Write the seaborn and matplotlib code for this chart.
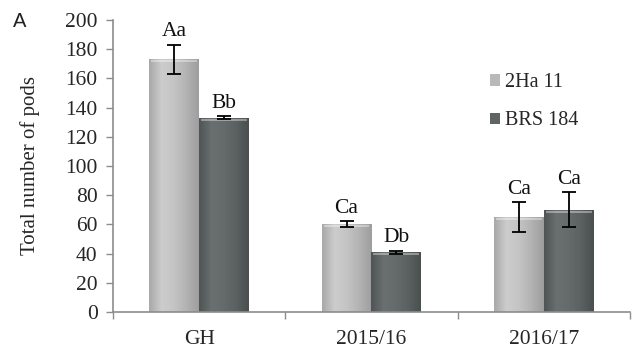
import numpy as np
import pandas as pd
import matplotlib
matplotlib.use("Agg")
import matplotlib.pyplot as plt
import seaborn as sns
from matplotlib.colors import LinearSegmentedColormap

# Total number of pods per environment and genotype
environments = ["GH", "2015/16", "2016/17"]
genotypes = ["2Ha 11", "BRS 184"]
pods_2ha11 = [173, 60, 65]
pods_brs184 = [133, 41, 70]
err_2ha11 = [10, 2, 10]
err_brs184 = [1, 1, 12]
letters_2ha11 = ["Aa", "Ca", "Ca"]
letters_brs184 = ["Bb", "Db", "Ca"]

df = pd.DataFrame({
    "env": environments * 2,
    "genotype": [genotypes[0]] * 3 + [genotypes[1]] * 3,
    "pods": pods_2ha11 + pods_brs184,
    "err": err_2ha11 + err_brs184,
    "letter": letters_2ha11 + letters_brs184,
})

sns.set_theme(style="white")
plt.rcParams["font.family"] = ["Liberation Serif", "DejaVu Serif"]

base_colors = {"2Ha 11": "#b9b9b9", "BRS 184": "#5f6565"}

fig = plt.figure(figsize=(6.37, 3.5), dpi=100)
ax = fig.add_axes([0.1774, 0.1086, 0.8116, 0.8343])

sns.barplot(data=df, x="env", y="pods", hue="genotype", order=environments,
            hue_order=genotypes, palette=base_colors, width=0.58, gap=0,
            errorbar=None, ax=ax, legend=True, edgecolor="none", linewidth=0)

# shaded fill for each bar, clipped to the bar rectangle
shades = {
    "2Ha 11": ["#a9a9a9", "#cdcdcd", "#c4c4c4", "#b3b3b3", "#9e9e9e"],
    "BRS 184": ["#4f5454", "#6a7070", "#656b6b", "#5b6161", "#4a4f4f"],
}
grad = np.linspace(0, 1, 64).reshape(1, -1)
patches = list(ax.patches)
for i, p in enumerate(patches[:6]):
    g = genotypes[i // 3]
    cmap = LinearSegmentedColormap.from_list(g, shades[g])
    x0, y0 = p.get_x(), p.get_y()
    w, h = p.get_width(), p.get_height()
    im = ax.imshow(grad, cmap=cmap, aspect="auto", extent=[x0, x0 + w, y0, y0 + h],
                   zorder=p.get_zorder() + 0.1, interpolation="bilinear")
    im.set_clip_path(p)
    # lighter rim along the top of the bar
    ax.plot([x0 + w * 0.04, x0 + w * 0.96], [y0 + h - 1.2, y0 + h - 1.2],
            color="white", alpha=0.45, lw=1.2, zorder=p.get_zorder() + 0.2,
            solid_capstyle="butt")

# error bars and significance letters
for i, p in enumerate(patches[:6]):
    xc = p.get_x() + p.get_width() / 2
    yv = df["pods"].iloc[i]
    e = df["err"].iloc[i]
    ax.errorbar(xc, yv, yerr=e, fmt="none", ecolor="black", elinewidth=1.3,
                capsize=5, capthick=1.3, zorder=5)
    ax.text(xc, yv + e + 2.5, df["letter"].iloc[i], ha="center", va="bottom",
            fontsize=15.5, color="#111111")

ax.set_xlim(-0.5, 2.5)
ax.set_ylim(0, 200)
ax.set_yticks(range(0, 201, 20))
ax.tick_params(axis="y", labelsize=15.5, length=5, width=1, color="#8c8c8c",
               left=True, direction="out", pad=6)
ax.tick_params(axis="x", labelsize=15.5, length=0, pad=13)
ax.set_xticks([-0.5, 0.5, 1.5, 2.5], minor=True)
ax.tick_params(axis="x", which="minor", length=5, width=1, color="#8c8c8c",
               bottom=True, direction="out")
ax.set_xlabel("")
ax.set_ylabel("Total number of pods", fontsize=15, labelpad=18)
for s in ["top", "right"]:
    ax.spines[s].set_visible(False)
for s in ["left", "bottom"]:
    ax.spines[s].set_color("#8c8c8c")
    ax.spines[s].set_linewidth(1.2)
ax.grid(False)

leg = ax.legend(loc="upper left", bbox_to_anchor=(0.713, 0.845), frameon=False,
                fontsize=14.5, handlelength=0.5, handleheight=0.5,
                handletextpad=0.25, labelspacing=0.95, borderaxespad=0)

fig.text(0.021, 0.922, "A", fontsize=14.5, family=["Liberation Sans", "DejaVu Sans"],
         color="#222222")

fig.savefig("out.png", dpi=100, facecolor="white")
